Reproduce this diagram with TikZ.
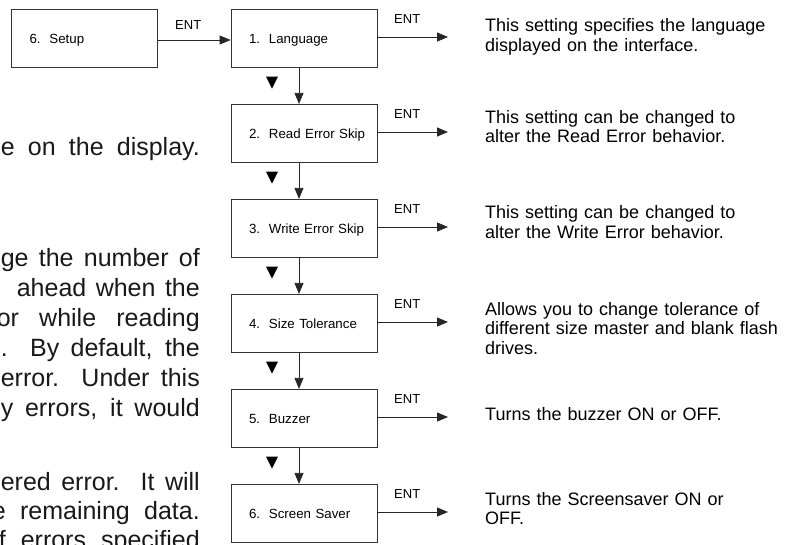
\documentclass[tikz,border=0pt]{standalone}
\usepackage{fontspec}
\setmainfont{Liberation Sans}
\usetikzlibrary{arrows.meta}
\tikzset{
  menubox/.style={draw=black!80, line width=0.8pt, text width=128pt, inner xsep=9pt, inner ysep=0pt,
    minimum height=58.4pt, align=left, text height=9.6pt, text depth=0pt, font=\fontsize{13.3}{16}\selectfont,
    execute at begin node={\hspace*{9pt}}},
  entlabel/.style={anchor=base west, inner sep=0pt, font=\fontsize{13}{15}\selectfont},
  infotext/.style={anchor=base west, inner sep=0pt, text width=300pt, align=left, font=\fontsize{18}{19.5}\selectfont},
  pagetext/.style={anchor=base east, inner sep=0pt, text=black!90, font=\fontsize{25}{29}\selectfont},
  flow/.style={draw=black!85, line width=0.8pt, -{Triangle[length=11pt,width=9pt]}}
}
\begin{document}
\begin{tikzpicture}[x=1pt,y=-1pt]
\useasboundingbox (0,0) rectangle (794,544);
\node[pagetext] (p1) at (200,155) {\makebox[199pt][s]{e on the display.}};
\node[pagetext] (p2) at (200,266) {\makebox[199pt][s]{ge the number of}};
\node[pagetext] (p3) at (200,296) {\makebox[183pt][s]{ahead when the}};
\node[pagetext] (p4) at (200,326) {\makebox[203pt][s]{or while reading}};
\node[pagetext] (p5) at (200,356) {\makebox[199pt][s]{. By default, the}};
\node[pagetext] (p6) at (200,386) {\makebox[199pt][s]{error. Under this}};
\node[pagetext] (p7) at (200,416) {\makebox[199pt][s]{y errors, it would}};
\node[pagetext] (p8) at (200,490) {\makebox[199pt][s]{ered error.\ \ It will}};
\node[pagetext] (p9) at (200,519) {\makebox[208pt][s]{e remaining data.}};
\node[pagetext] (p10) at (200,548) {\makebox[201pt][s]{f errors specified}};
\node[menubox] (setup) at (84.5,38.5) {6.\ \ Setup};
\node[menubox] (b1) at (304,38.5) {1.\ \ Language};
\node[menubox] (b2) at (304,133.5) {2.\ \ Read Error Skip};
\node[menubox] (b3) at (304,228.5) {3.\ \ Write Error Skip};
\node[menubox] (b4) at (304,323.5) {4.\ \ Size Tolerance};
\node[menubox] (b5) at (304,418.5) {5.\ \ Buzzer};
\node[menubox] (b6) at (304,513.5) {6.\ \ Screen Saver};
\draw[flow] ([yshift=-1.5pt]setup.east) -- ([yshift=-1.5pt]b1.west);
\node[entlabel] (ent0) at (175,29) {ENT};
\draw[flow] ([xshift=-5pt]b1.south) -- ([xshift=-5pt]b2.north);
\draw[flow] ([xshift=-5pt]b2.south) -- ([xshift=-5pt]b3.north);
\draw[flow] ([xshift=-5pt]b3.south) -- ([xshift=-5pt]b4.north);
\draw[flow] ([xshift=-5pt]b4.south) -- ([xshift=-5pt]b5.north);
\draw[flow] ([xshift=-5pt]b5.south) -- ([xshift=-5pt]b6.north);
\fill (266,76.7) -- (278,76.7) -- (272,88.7) -- cycle;
\fill (266,171.7) -- (278,171.7) -- (272,183.7) -- cycle;
\fill (266,266.7) -- (278,266.7) -- (272,278.7) -- cycle;
\fill (266,361.7) -- (278,361.7) -- (272,373.7) -- cycle;
\fill (266,456.7) -- (278,456.7) -- (272,468.7) -- cycle;
\coordinate (e1) at (448,37);
\coordinate (e2) at (448,132);
\coordinate (e3) at (448,227);
\coordinate (e4) at (448,322);
\coordinate (e5) at (448,417);
\coordinate (e6) at (448,512);
\draw[flow] ([yshift=1.5pt]b1.east) -- (e1);
\draw[flow] ([yshift=1.5pt]b2.east) -- (e2);
\draw[flow] ([yshift=1.5pt]b3.east) -- (e3);
\draw[flow] ([yshift=1.5pt]b4.east) -- (e4);
\draw[flow] ([yshift=1.5pt]b5.east) -- (e5);
\draw[flow] ([yshift=1.5pt]b6.east) -- (e6);
\node[entlabel] (ent1) at (394,23.6) {ENT};
\node[entlabel] (ent2) at (394,118.6) {ENT};
\node[entlabel] (ent3) at (394,213.6) {ENT};
\node[entlabel] (ent4) at (394,308.6) {ENT};
\node[entlabel] (ent5) at (394,403.6) {ENT};
\node[entlabel] (ent6) at (394,498.6) {ENT};
\node[infotext] (d1) at (485,31.7) {This setting specifies the language\\displayed on the interface.};
\node[infotext] (d2) at (485,123) {This setting can be changed to\\alter the Read Error behavior.};
\node[infotext] (d3) at (485,218.5) {This setting can be changed to\\alter the Write Error behavior.};
\node[infotext] (d4) at (485,315) {Allows you to change tolerance of\\different size master and blank flash\\drives.};
\node[infotext] (d5) at (485,420) {Turns the buzzer ON or OFF.};
\node[infotext] (d6) at (485,505) {Turns the Screensaver ON or\\OFF.};
\end{tikzpicture}
\end{document}
